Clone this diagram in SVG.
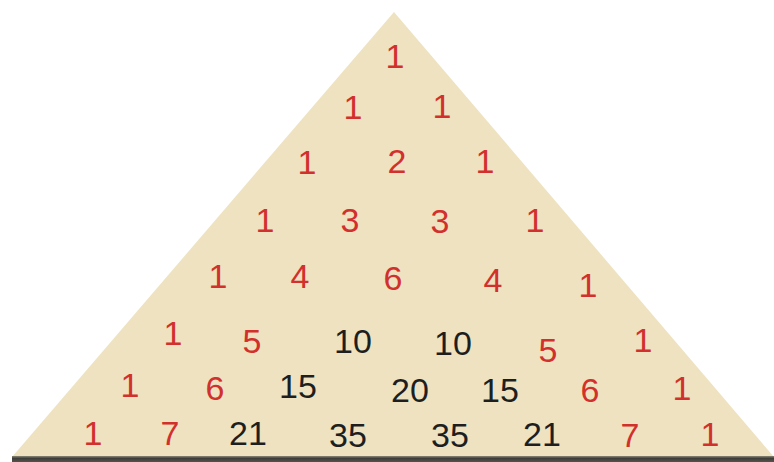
<svg xmlns="http://www.w3.org/2000/svg" width="774" height="462" viewBox="0 0 774 462">
  <defs>
    <linearGradient id="bar" x1="0" y1="0" x2="0" y2="1">
      <stop offset="0" stop-color="#8a8878"/>
      <stop offset="0.4" stop-color="#3e3e38"/>
      <stop offset="1" stop-color="#55544c"/>
    </linearGradient>
  </defs>
  <style>
    text { font-family: "Liberation Sans", Arial, sans-serif; font-size: 34px; text-anchor: middle; }
    .r { fill: #d2302c; }
    .k { fill: #1e1e1e; }
  </style>
  <rect width="774" height="462" fill="#ffffff"/>
  <polygon id="triangle" points="394,12 12,457 774,457" fill="#eee2c0"/>
  <rect id="base" x="12" y="456" width="762" height="6" fill="url(#bar)"/>
  <g id="row0">
    <text class="r" x="395" y="68">1</text>
  </g>
  <g id="row1">
    <text class="r" x="353" y="119">1</text>
    <text class="r" x="442" y="118">1</text>
  </g>
  <g id="row2">
    <text class="r" x="307" y="174">1</text>
    <text class="r" x="397" y="173">2</text>
    <text class="r" x="485" y="173">1</text>
  </g>
  <g id="row3">
    <text class="r" x="265" y="232">1</text>
    <text class="r" x="350" y="232">3</text>
    <text class="r" x="440" y="233">3</text>
    <text class="r" x="535" y="232">1</text>
  </g>
  <g id="row4">
    <text class="r" x="218" y="288">1</text>
    <text class="r" x="300" y="288">4</text>
    <text class="r" x="393" y="290">6</text>
    <text class="r" x="493" y="292">4</text>
    <text class="r" x="588" y="297">1</text>
  </g>
  <g id="row5">
    <text class="r" x="173" y="345">1</text>
    <text class="r" x="252" y="353">5</text>
    <text class="k" x="353" y="353">10</text>
    <text class="k" x="453" y="355">10</text>
    <text class="r" x="548" y="362">5</text>
    <text class="r" x="643" y="352">1</text>
  </g>
  <g id="row6">
    <text class="r" x="130" y="397">1</text>
    <text class="r" x="215" y="400">6</text>
    <text class="k" x="298" y="398">15</text>
    <text class="k" x="410" y="402">20</text>
    <text class="k" x="500" y="402">15</text>
    <text class="r" x="590" y="402">6</text>
    <text class="r" x="682" y="400">1</text>
  </g>
  <g id="row7">
    <text class="r" x="93" y="445">1</text>
    <text class="r" x="170" y="445">7</text>
    <text class="k" x="248" y="445">21</text>
    <text class="k" x="348" y="447">35</text>
    <text class="k" x="450" y="447">35</text>
    <text class="k" x="542" y="446">21</text>
    <text class="r" x="630" y="447">7</text>
    <text class="r" x="710" y="446">1</text>
  </g>
</svg>
